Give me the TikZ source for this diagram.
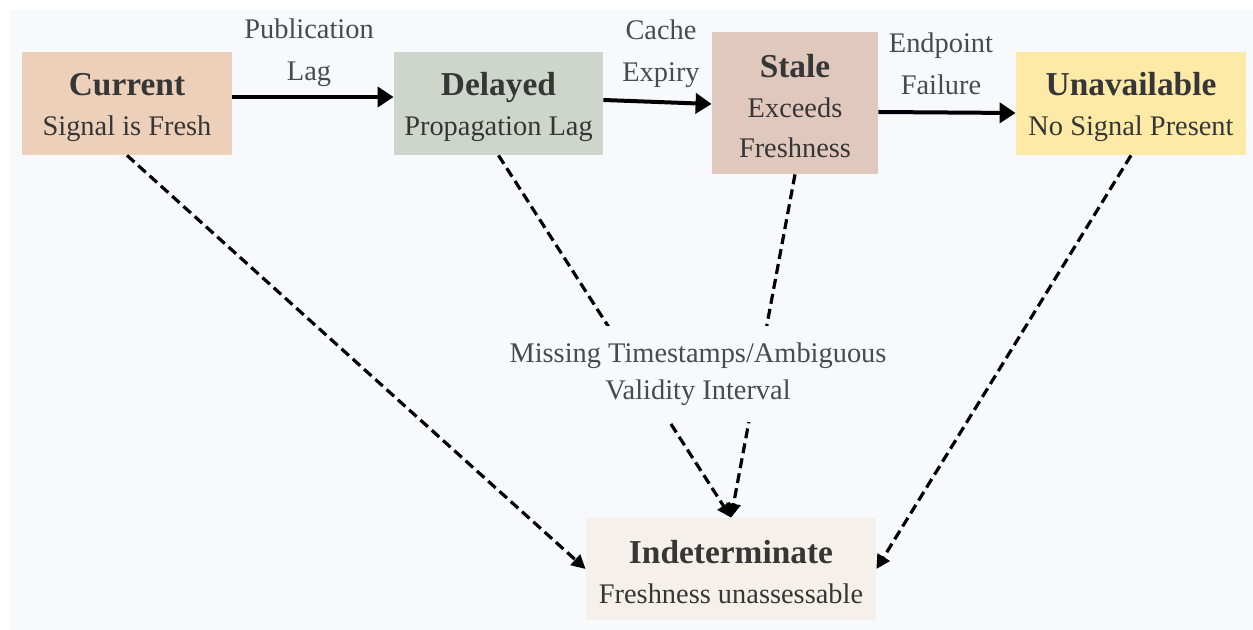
\documentclass[tikz,border=0pt]{standalone}
\usepackage{fontspec}
\setmainfont{Liberation Serif}
\usetikzlibrary{arrows.meta}
\definecolor{bgc}{HTML}{F8F9FD}
\definecolor{curc}{HTML}{EDD0B9}
\definecolor{delc}{HTML}{CED6CC}
\definecolor{stalec}{HTML}{E0C8BD}
\definecolor{unavc}{HTML}{FDEAA6}
\definecolor{indc}{HTML}{F5F0EA}
\definecolor{txtc}{HTML}{363636}
\newcommand{\ttl}[1]{{\fontsize{16.7}{20}\selectfont\bfseries\rule{0pt}{15pt}#1}}
\tikzset{
  statebox/.style={rectangle, inner sep=0pt, align=center, text=txtc,
    font=\fontsize{14.2}{20}\selectfont},
  elabel/.style={inner sep=0pt, align=center, text=txtc!90,
    font=\fontsize{14.2}{21}\selectfont},
  flow/.style={line width=2pt, -{Triangle[length=8pt,width=10pt]}},
  dflow/.style={line width=1.6pt, dash pattern=on 5pt off 2.6pt,
    -{Triangle[length=7pt,width=7pt]}},
}
\begin{document}
\begin{tikzpicture}[x=0.5pt,y=-0.5pt]
\useasboundingbox (0,0) rectangle (1253,630);
\fill[white] (0,0) rectangle (1253,630);
\fill[bgc] (10,10) rectangle (1253,630);
% state nodes
\node[statebox, fill=curc, minimum width=105pt, minimum height=51.5pt] (cur) at (127,103.5)
  {\ttl{Current}\\Signal is Fresh};
\node[statebox, fill=delc, minimum width=104.5pt, minimum height=51.5pt] (del) at (498.5,103.5)
  {\ttl{Delayed}\\Propagation Lag};
\node[statebox, fill=stalec, minimum width=83pt, minimum height=71pt] (sta) at (795,103)
  {\ttl{Stale}\\Exceeds\\Freshness};
\node[statebox, fill=unavc, minimum width=115pt, minimum height=51.5pt] (una) at (1131,103.5)
  {\ttl{Unavailable}\\No Signal Present};
\node[statebox, fill=indc, minimum width=145pt, minimum height=51pt] (ind) at (731,569)
  {\ttl{Indeterminate}\\Freshness unassessable};
% edge labels
\node[elabel] (lpub) at (309,53) {Publication\\Lag};
\node[elabel] (lcache) at (661,54) {Cache\\Expiry};
\node[elabel] (lend) at (941,64) {Endpoint\\Failure};
% solid transitions
\draw[flow] ([yshift=3.25pt]cur.east) -- ([yshift=3.25pt]del.west);
\draw[flow] ([yshift=1.75pt]del.east) -- ([yshift=-0.5pt]sta.west);
\draw[flow] ([yshift=-4.5pt]sta.east) -- ([yshift=-4.75pt]una.west);
% dashed transitions
\draw[dflow] (cur.south) -- (ind.west);
\draw[dflow] (una.south) -- (ind.east);
\draw[dflow] (del.south) -- (ind.north);
\draw[dflow] (sta.south) -- (ind.north);
\node[elabel, fill=bgc, inner xsep=4pt, inner ysep=8.5pt,
  font=\fontsize{14.2}{18.5}\selectfont] (lmiss) at (698,374)
  {Missing Timestamps/Ambiguous\\Validity Interval};
\end{tikzpicture}
\end{document}
